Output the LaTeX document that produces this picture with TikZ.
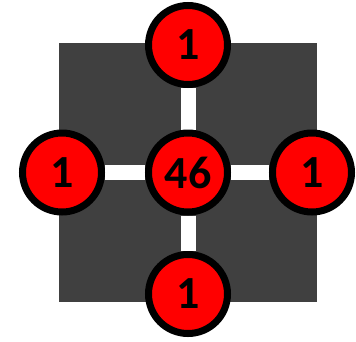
\documentclass[tikz,border=0pt]{standalone}
\usepackage{fontspec}
\setmainfont{Carlito}
\usepackage{tikz}
\usetikzlibrary{calc}

\definecolor{plate}{HTML}{404040}
\pgfdeclarelayer{back}
\pgfsetlayers{back,main}

\begin{document}
\begin{tikzpicture}[x=1pt, y=-1pt,
    cell/.style={circle, draw=black, line width=7pt, fill=red, inner sep=0pt,
        minimum size=79pt, font=\fontsize{46}{46}\selectfont\bfseries},
    bar/.style={white, line width=15pt}]
    \useasboundingbox (0,0) rectangle (356,341);
    \coordinate (C) at (188,172.5);
    \node[cell] (mid) at (C) {46};
    \node[cell] (top) at (188,45) {1};
    \node[cell] (bottom) at (188,294) {1};
    \node[cell] (left) at (62,172.5) {1};
    \node[cell] (right) at (312,172.5) {1};
    % Platte und weisses Kreuz hinter den Kreisen
    \begin{pgfonlayer}{back}
        \fill[plate] (59,42.5) rectangle (317,301.5);
        \foreach \p in {top,bottom,left,right} {\draw[bar] (mid) -- (\p);}
    \end{pgfonlayer}
\end{tikzpicture}
\end{document}
